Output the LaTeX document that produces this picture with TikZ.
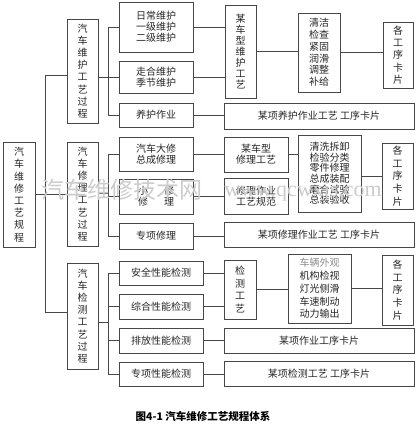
\documentclass[tikz,border=0pt]{standalone}
\usepackage{fontspec}
\setmainfont{Noto Sans CJK SC}
\newfontfamily\wmfont{Liberation Serif}
\newcommand\mkbox[7]{\node[bx,#6,minimum width={#4pt-#2pt},minimum height={#5pt-#3pt}] (#1) at ({(#2+#4)/2},{(#3+#5)/2}) {#7};}
\begin{document}
\begin{tikzpicture}[x=1pt,y=-1pt,
  bx/.style={draw=black!72, line width=0.8pt, inner sep=0pt, align=center,
             font=\fontsize{10}{12.2}\selectfont, text=black!85},
  lh10/.style={font=\fontsize{10}{10.6}\selectfont},
  lh11/.style={font=\fontsize{10}{11}\selectfont},
  lh12/.style={font=\fontsize{10}{11.8}\selectfont},
  lh13/.style={font=\fontsize{10}{12.8}\selectfont},
  ln/.style={draw=black!72, line width=0.8pt},
  wm/.style={text=black!20}]
\useasboundingbox (0,0) rectangle (419,427);
\fill[white] (0,0) rectangle (419,427);

% left column
\mkbox{L0}{3}{142}{35}{247}{}{汽\\车\\维\\修\\工\\艺\\规\\程}
\mkbox{A}{67}{19}{98}{123}{}{汽\\车\\维\\护\\工\\艺\\过\\程}
\mkbox{B}{67}{142}{98}{246}{}{汽\\车\\修\\理\\工\\艺\\过\\程}
\mkbox{C}{67}{263}{98}{369}{}{汽\\车\\检\\测\\工\\艺\\过\\程}

% second column
\mkbox{A1}{119}{2}{193}{52}{lh11}{日常维护\\一级维护\\二级维护}
\mkbox{A2}{119}{61}{193}{93}{lh11}{走合维护\\季节维护}
\mkbox{A3}{119}{103}{193}{127}{}{养护作业}
\mkbox{B1}{119}{137}{193}{171}{lh11}{汽车大修\\总成修理}
\mkbox{B2}{119}{179}{193}{214}{lh11}{小\hspace{1.6em}修\\修\hspace{1.6em}理}
\mkbox{B3}{119}{223}{193}{249}{}{专项修理}
\mkbox{C1}{119}{261}{203}{285}{}{安全性能检测}
\mkbox{C2}{119}{294}{203}{319}{}{综合性能检测}
\mkbox{C3}{119}{328}{203}{353}{}{排放性能检测}
\mkbox{C4}{119}{362}{203}{386}{}{专项性能检测}

% right part
\mkbox{A4}{225}{5}{256}{98}{lh11}{某\\车\\型\\维\\护\\工\\艺}
\mkbox{A5}{298}{13}{340}{92}{lh12}{清洁\\检查\\紧固\\润滑\\调整\\补给}
\mkbox{A6}{383}{22}{413}{88}{}{各\\工\\序\\卡\\片}
\mkbox{A7}{224}{103}{414}{129}{}{某项养护作业工艺 工序卡片}
\mkbox{B4}{224}{137}{288}{172}{lh11}{某车型\\修理工艺}
\mkbox{B5}{224}{178}{288}{214}{lh11}{修理作业\\工艺规范}
\mkbox{B6}{298}{135}{361}{212}{lh10}{清洗拆卸\\检验分类\\零件修理\\总成装配\\磨合试验\\总装验收}
\mkbox{B7}{382}{143}{413}{209}{lh13}{各\\工\\序\\卡\\片}
\mkbox{B8}{224}{222}{414}{247}{}{某项修理作业工艺 工序卡片}
\mkbox{C5}{224}{260}{256}{319}{lh13}{检\\测\\工\\艺}
\mkbox{C6}{288}{254}{351}{323}{lh13}{\textcolor{black!45}{车辆外观}\\机构检视\\灯光侧滑\\车速制动\\动力输出}
\mkbox{C7}{382}{255}{413}{325}{lh13}{各\\工\\序\\卡\\片}
\mkbox{C8}{224}{328}{414}{353}{}{某项作业工序卡片}
\mkbox{C9}{224}{361}{414}{386}{}{某项检测工艺 工序卡片}

% trunk
\coordinate (T1) at (45,75);
\coordinate (T2) at (45,312);
\draw[ln] (T1) -- (T2);
\draw[ln] (T1) -- (T1 -| A.west);
\draw[ln] (T2) -- (T2 -| C.west);
\draw[ln] (L0.east) -- (L0.east -| B.west);

% brackets
\coordinate (Aj) at (108,77);
\draw[ln] (A.east |- Aj) -- (Aj);
\draw[ln] (A1.west -| Aj) -- (A3.west -| Aj);
\foreach \n in {A1,A2,A3} \draw[ln] (\n.west -| Aj) -- (\n.west);
\coordinate (Bj) at (108,193);
\draw[ln] (B.east |- Bj) -- (Bj);
\draw[ln] (B1.west -| Bj) -- (B3.west -| Bj);
\foreach \n in {B1,B2,B3} \draw[ln] (\n.west -| Bj) -- (\n.west);
\coordinate (Cj) at (108,322);
\draw[ln] (C.east |- Cj) -- (Cj);
\draw[ln] (C1.west -| Cj) -- (C4.west -| Cj);
\foreach \n in {C1,C2,C3,C4} \draw[ln] (\n.west -| Cj) -- (\n.west);

% horizontal links
\draw[ln] (A1.east) -- (A1.east -| A4.west);
\draw[ln] (A2.east) -- (A2.east -| A4.west);
\draw[ln] (A3.east) -- (A3.east -| A7.west);
\draw[ln] (A4.east) -- (A4.east -| A5.west);
\draw[ln] (A5.east) -- (A5.east -| A6.west);
\draw[ln] (B1.east) -- (B1.east -| B4.west);
\draw[ln] (B2.east) -- (B2.east -| B5.west);
\draw[ln] (B3.east) -- (B3.east -| B8.west);
\draw[ln] (B4.east) -- (B4.east -| B6.west);
\draw[ln] (B7.west -| B6.east) -- (B7.west);
\draw[ln] (C1.east) -- (C1.east -| C5.west);
\draw[ln] (C2.east) -- (C2.east -| C5.west);
\draw[ln] (C3.east) -- (C3.east -| C8.west);
\draw[ln] (C4.east) -- (C4.east -| C9.west);
\draw[ln] (C5.east) -- (C5.east -| C6.west);
\draw[ln] (C6.east) -- (C6.east -| C7.west);

% watermark
\node[wm, font=\fontsize{23}{23}\selectfont] (wm1) at (122,190) {汽车维修技术网};
\node[wm, font=\wmfont\fontsize{22}{22}\selectfont] (wm2) at (303,192) {www.qcwxjs.com};

% caption
\node[font=\fontsize{10.5}{12}\selectfont\bfseries] (cap) at (203,416) {图4-1 汽车维修工艺规程体系};
\end{tikzpicture}
\end{document}
